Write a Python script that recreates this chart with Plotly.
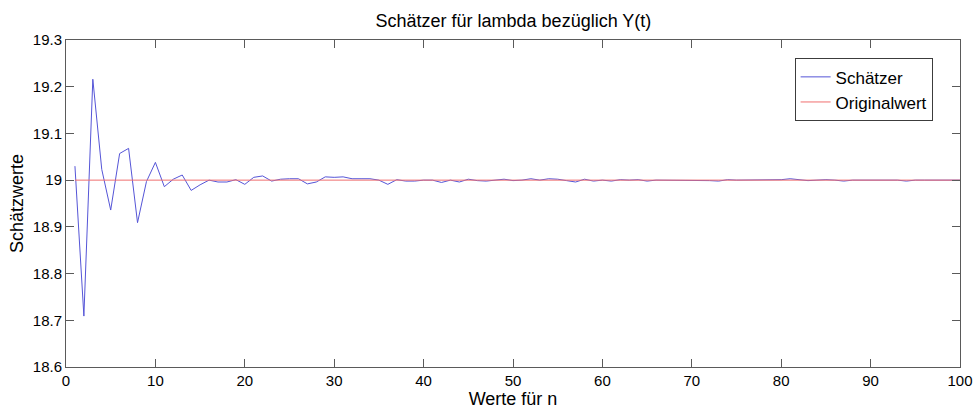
import plotly.graph_objects as go

# Estimator values for lambda, n = 1..100
n_values = list(range(1, 101))
schaetzer = [
    19.030, 18.709, 19.216, 19.023, 18.936, 19.057, 19.068, 18.909, 18.997, 19.038,
    18.986, 19.002, 19.011, 18.978, 18.990, 19.000, 18.996, 18.996, 19.001, 18.991,
    19.006, 19.009, 18.998, 19.002, 19.003, 19.003, 18.992, 18.996, 19.007, 19.006,
    19.007, 19.003, 19.003, 19.003, 19.000, 18.991, 19.001, 18.998, 18.998, 19.000,
    19.000, 18.995, 19.000, 18.996, 19.002, 18.999, 18.998, 19.000, 19.002, 18.999,
    19.000, 19.003, 19.000, 19.003, 19.002, 18.999, 18.996, 19.002, 18.998, 19.000,
    18.998, 19.001, 19.000, 19.001, 18.998, 19.000, 19.000, 19.000, 19.000, 19.000,
    19.000, 18.999, 18.998, 19.001, 19.000, 19.000, 19.001, 19.000, 19.000, 19.001,
    19.003, 19.001, 18.999, 19.000, 19.001, 19.000, 18.998, 19.000, 19.000, 19.001,
    19.000, 19.000, 19.000, 18.998, 19.000, 19.000, 19.000, 19.000, 19.000, 19.000,
]
originalwert = [19.0] * len(n_values)

x_ticks = list(range(0, 101, 10))
y_ticks = [18.6, 18.7, 18.8, 18.9, 19.0, 19.1, 19.2, 19.3]
y_tick_labels = ["18.6", "18.7", "18.8", "18.9", "19", "19.1", "19.2", "19.3"]

FONT = "Liberation Sans, Arial, sans-serif"
AXIS_COLOR = "rgb(90,90,90)"

fig = go.Figure()
fig.add_trace(go.Scatter(
    x=n_values, y=schaetzer, mode="lines", name="Schätzer",
    line=dict(color="rgb(85,85,215)", width=1),
))
fig.add_trace(go.Scatter(
    x=n_values, y=originalwert, mode="lines", name="Originalwert",
    line=dict(color="rgb(240,110,110)", width=1),
))

axis_common = dict(
    showgrid=False, zeroline=False, showline=True, mirror="ticks",
    linecolor=AXIS_COLOR, linewidth=1, ticks="inside", ticklen=8,
    tickcolor=AXIS_COLOR, tickfont=dict(family=FONT, size=15, color="black"),
    automargin=False,
)

fig.update_layout(
    width=978, height=410,
    margin=dict(l=66, r=18, t=40, b=43),
    paper_bgcolor="white", plot_bgcolor="white",
    font=dict(family=FONT, color="black"),
    title=dict(
        text="Schätzer für lambda bezüglich Y(t)",
        x=0.525, xanchor="center", y=0.95, yanchor="middle",
        font=dict(family=FONT, size=18, color="black"),
    ),
    xaxis=dict(
        range=[0, 100], tickvals=x_ticks,
        title=dict(text="Werte für n", font=dict(family=FONT, size=18), standoff=0),
        **axis_common,
    ),
    yaxis=dict(
        range=[18.6, 19.3], tickvals=y_ticks, ticktext=y_tick_labels,
        title=dict(text="Schätzwerte", font=dict(family=FONT, size=18), standoff=4),
        **axis_common,
    ),
    legend=dict(
        x=0.815, y=0.944, xanchor="left", yanchor="top",
        bgcolor="white", bordercolor="rgb(60,60,60)", borderwidth=1,
        font=dict(family=FONT, size=17, color="black"),
        itemwidth=30, tracegroupgap=0,
    ),
    showlegend=True,
)

fig.write_html("out.html")
